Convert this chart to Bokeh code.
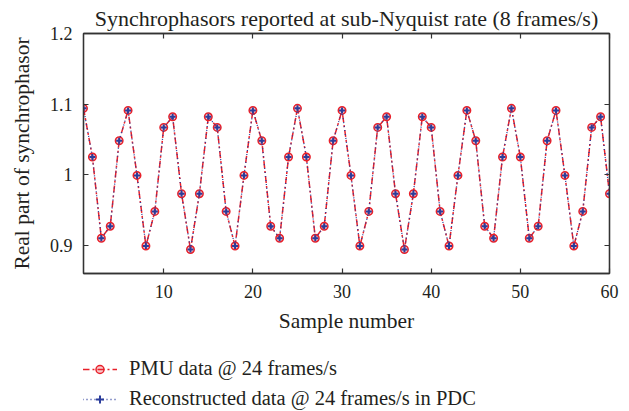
from bokeh.plotting import figure
from bokeh.layouts import column
from bokeh.models import (Range1d, FixedTicker, LinearAxis, Legend, LegendItem,
                          CustomJSTickFormatter)
from bokeh.embed import file_html
from bokeh.resources import INLINE

sample = list(range(1, 61))
pmu = [1.094, 1.025, 0.910, 0.927, 1.048, 1.091, 0.999, 0.899, 0.948, 1.067,
       1.082, 0.973, 0.894, 0.973, 1.082, 1.067, 0.948, 0.899, 0.999, 1.091,
       1.048, 0.927, 0.910, 1.025, 1.094, 1.025, 0.910, 0.927, 1.048, 1.091,
       0.999, 0.899, 0.948, 1.067, 1.082, 0.973, 0.894, 0.973, 1.082, 1.067,
       0.948, 0.899, 0.999, 1.091, 1.048, 0.927, 0.910, 1.025, 1.094, 1.025,
       0.910, 0.927, 1.048, 1.091, 0.999, 0.899, 0.948, 1.067, 1.082, 0.973]
recon = [1.094, 1.025, 0.910, 0.927, 1.048, 1.091, 0.999, 0.899, 0.948, 1.067,
         1.082, 0.973, 0.894, 0.973, 1.082, 1.067, 0.948, 0.899, 0.999, 1.091,
         1.048, 0.927, 0.910, 1.025, 1.094, 1.025, 0.910, 0.927, 1.048, 1.091,
         0.999, 0.899, 0.948, 1.067, 1.082, 0.973, 0.894, 0.973, 1.082, 1.067,
         0.948, 0.899, 0.999, 1.091, 1.048, 0.927, 0.910, 1.025, 1.094, 1.025,
         0.910, 0.927, 1.048, 1.091, 0.999, 0.899, 0.948, 1.067, 1.082, 0.973]
x_ticks = [10, 20, 30, 40, 50, 60]
y_ticks = [0.9, 1.0, 1.1, 1.2]
y_tick_labels = ["0.9", "1", "1.1", "1.2"]

title_text = "Synchrophasors reported at sub-Nyquist rate (8 frames/s)"
x_label = "Sample number"
y_label = "Real part of synchrophasor"
label_pmu = "PMU data @ 24 frames/s"
label_recon = "Reconstructed data @ 24 frames/s in PDC"

FONT = "Liberation Serif"
TXT = "#231f20"
AX = "#333333"
RED = "#e8202a"
BLUE = "#2b3d9b"

p = figure(width=629, height=340, output_backend="svg", toolbar_location=None,
           x_range=Range1d(1, 60), y_range=Range1d(0.86, 1.2),
           min_border_left=83, min_border_right=20, min_border_top=33,
           min_border_bottom=67)
p.grid.visible = False
p.outline_line_color = AX
p.outline_line_width = 1.3
p.background_fill_color = "white"

p.title.text = title_text
p.title.align = "center"
p.title.text_font = FONT
p.title.text_font_style = "normal"
p.title.text_font_size = "22px"
p.title.text_color = TXT
p.title.standoff = 5

ytick_fmt = CustomJSTickFormatter(args=dict(tv=y_ticks, tl=y_tick_labels), code="""
const i = tv.findIndex(t => Math.abs(t - tick) < 1e-9);
return i >= 0 ? tl[i] : "";
""")

def style_axis(ax):
    ax.major_tick_in = 5
    ax.major_tick_out = 0
    ax.minor_tick_line_color = None
    ax.axis_line_color = AX
    ax.axis_line_width = 1.3
    ax.major_tick_line_color = AX
    ax.major_tick_line_width = 1.2
    ax.major_label_text_font = FONT
    ax.major_label_text_font_size = "18px"
    ax.major_label_text_color = TXT
    ax.axis_label_text_font = FONT
    ax.axis_label_text_font_size = "21.5px"
    ax.axis_label_text_font_style = "normal"
    ax.axis_label_text_color = TXT

xa = p.xaxis[0]
xa.ticker = FixedTicker(ticks=x_ticks)
xa.axis_label = x_label
style_axis(xa)
xa.major_label_standoff = 11
xa.axis_label_standoff = 8

ya = p.yaxis[0]
ya.ticker = FixedTicker(ticks=y_ticks)
ya.formatter = ytick_fmt
ya.axis_label = y_label
style_axis(ya)
ya.major_label_standoff = 11
ya.axis_label_standoff = 13

blank = CustomJSTickFormatter(code="return '';")
top = LinearAxis(ticker=FixedTicker(ticks=x_ticks), formatter=blank)
style_axis(top)
top.major_label_standoff = 0
top.major_label_text_font_size = "1px"
p.add_layout(top, "above")
right = LinearAxis(ticker=FixedTicker(ticks=y_ticks), formatter=blank)
style_axis(right)
right.major_label_standoff = 0
right.major_label_text_font_size = "1px"
p.add_layout(right, "right")

def draw_series(fig):
    r1 = fig.line(sample, pmu, line_color=RED, line_width=1.5, line_dash="7 3 2 3")
    r2 = fig.scatter(sample, pmu, marker="circle", size=7.5, line_color=RED,
                     line_width=1.5, fill_color=RED, fill_alpha=0.25)
    r3 = fig.line(sample, recon, line_color=BLUE, line_width=1.3, line_dash="1 3")
    r4 = fig.scatter(sample, recon, marker="cross", size=6, line_color=BLUE,
                     line_width=2)
    return r1, r2, r3, r4

draw_series(p)

# legend strip below the chart (its own copies of the series lie outside its view)
lg = figure(width=629, height=71, output_backend="svg", toolbar_location=None,
            x_range=Range1d(-20, -19), y_range=Range1d(0, 1),
            x_axis_location=None, y_axis_location=None,
            min_border_left=0, min_border_right=0, min_border_top=0,
            min_border_bottom=0)
lg.grid.visible = False
lg.outline_line_color = None
q1, q2, q3, q4 = draw_series(lg)

legend = Legend(items=[LegendItem(label=label_pmu, renderers=[q1, q2]),
                       LegendItem(label=label_recon, renderers=[q3, q4])],
                location=(-1, 1), orientation="vertical",
                border_line_color=None, background_fill_alpha=0,
                padding=0, margin=0, spacing=7, glyph_width=35, glyph_height=20,
                label_height=20, label_standoff=12,
                label_text_font=FONT, label_text_font_size="20.5px",
                label_text_color=TXT)
lg.add_layout(legend, "center")

layout = column(p, lg, spacing=0)
open("out.html", "w").write(file_html(layout, INLINE))
